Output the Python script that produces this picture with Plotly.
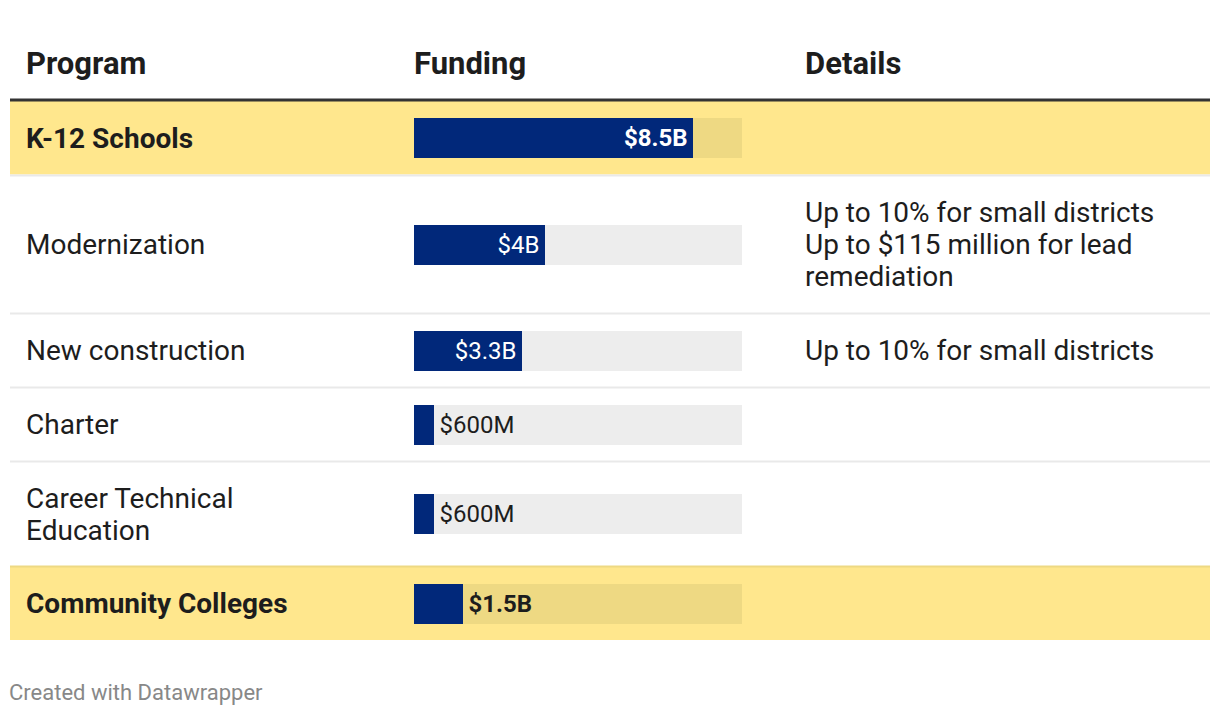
import plotly.graph_objects as go

# ---------------- data ----------------
programs = ["K-12 Schools", "Modernization", "New construction", "Charter",
            "Career Technical<br>Education", "Community Colleges"]
funding_billions = [8.5, 4.0, 3.3, 0.6, 0.6, 1.5]
funding_labels = ["$8.5B", "$4B", "$3.3B", "$600M", "$600M", "$1.5B"]
details = ["", "Up to 10% for small districts<br>Up to $115 million for lead<br>remediation",
           "Up to 10% for small districts", "", "", ""]
is_total_row = [True, False, False, False, False, True]
headers = ["Program", "Funding", "Details"]
SCALE_MAX = 10.0

# ---------------- layout constants (page pixels) ----------------
PAGE_OFF = 8                      # default body margin of the page
TEXT_PAD = 3                      # annotation inner padding
W, H = 1220 - PAGE_OFF, 716 - PAGE_OFF
TABLE_LEFT, TABLE_RIGHT = 10, 1210
COL_X = [27, 415, 806]
BAR_LEFT, BAR_RIGHT = 414, 742
HEADER_Y = 64
HEADER_LINE_Y = 100
ROW_HEIGHTS = [75, 138, 74, 74, 105, 74]
BAR_THICK = 40
LINE_H = 32

FONT = "Roboto"
TEXT_COLOR = "#1d1d1d"
NAVY = "#01287a"
YELLOW = "#ffe78d"
YELLOW_TRACK = "#eed983"
GREY_TRACK = "#ededed"
SEP_GREY = "#e9e9e9"


def px(x):
    return (x - PAGE_OFF) / W


bounds = [HEADER_LINE_Y + 0.5]
for h in ROW_HEIGHTS:
    bounds.append(bounds[-1] + h)
centers = [(bounds[i] + bounds[i + 1]) / 2 for i in range(len(ROW_HEIGHTS))]

fig = go.Figure()

fig.add_trace(go.Bar(
    orientation="h", y=centers, x=[SCALE_MAX] * len(centers), width=BAR_THICK,
    marker=dict(color=[YELLOW_TRACK if t else GREY_TRACK for t in is_total_row], line=dict(width=0)),
    hoverinfo="skip", showlegend=False,
))

texts = [f"<b>{l}</b>" if t else l for l, t in zip(funding_labels, is_total_row)]
positions = ["inside" if v / SCALE_MAX > 0.25 else "outside" for v in funding_billions]
texts = [t + "\u200a" if p == "inside" else "\u200a" + t for t, p in zip(texts, positions)]
tcolors = ["white" if p == "inside" else TEXT_COLOR for p in positions]
fig.add_trace(go.Bar(
    orientation="h", y=centers, x=funding_billions, width=BAR_THICK,
    marker=dict(color=NAVY, line=dict(width=0)),
    text=texts, textposition=positions, insidetextanchor="end",
    textfont=dict(family=FONT, size=24, color=tcolors),
    constraintext="none", cliponaxis=False,
    hoverinfo="skip", showlegend=False,
))

shapes = []
for i, t in enumerate(is_total_row):
    if t:
        shapes.append(dict(type="rect", xref="paper", yref="y",
                           x0=px(TABLE_LEFT), x1=px(TABLE_RIGHT),
                           y0=bounds[i], y1=bounds[i + 1] - (1 if i < len(ROW_HEIGHTS) - 1 else 0.5),
                           fillcolor=YELLOW, line=dict(width=0), layer="below"))
for i in range(1, len(ROW_HEIGHTS)):
    col = YELLOW_TRACK if is_total_row[i] else SEP_GREY
    shapes.append(dict(type="line", xref="paper", yref="y",
                       x0=px(TABLE_LEFT), x1=px(TABLE_RIGHT),
                       y0=bounds[i], y1=bounds[i], line=dict(color=col, width=2), layer="below"))
shapes.append(dict(type="line", xref="paper", yref="y",
                   x0=px(TABLE_LEFT), x1=px(TABLE_RIGHT),
                   y0=HEADER_LINE_Y, y1=HEADER_LINE_Y, line=dict(color="#333333", width=3)))

annotations = []


def add_text(txt, x, yc, size, bold=False, color=TEXT_COLOR):
    lines = txt.split("<br>")
    n = len(lines)
    for k, ln in enumerate(lines):
        y = yc + (k - (n - 1) / 2) * LINE_H
        annotations.append(dict(text=f"<b>{ln}</b>" if bold else ln, xref="paper", yref="y",
                                x=px(x - TEXT_PAD), y=y, xanchor="left", yanchor="middle",
                                align="left", showarrow=False,
                                font=dict(family=FONT, size=size, color=color)))


for hx, ht in zip(COL_X, headers):
    add_text(ht, hx, HEADER_Y - 1, 31, bold=True)
for i, (p, d, t) in enumerate(zip(programs, details, is_total_row)):
    add_text(p, COL_X[0], centers[i], 28, bold=t)
    if d:
        add_text(d, COL_X[2], centers[i], 28)
add_text("Created with Datawrapper", TABLE_LEFT, 692, 22, color="#888888")

fig.update_layout(
    width=W, height=H, margin=dict(l=0, r=0, t=0, b=0),
    paper_bgcolor="white", plot_bgcolor="rgba(0,0,0,0)",
    barmode="overlay", bargap=0,
    xaxis=dict(domain=[px(BAR_LEFT), px(BAR_RIGHT)], range=[0, SCALE_MAX], visible=False, fixedrange=True),
    yaxis=dict(domain=[0, 1], range=[H + PAGE_OFF, PAGE_OFF], visible=False, fixedrange=True),
    shapes=shapes, annotations=annotations,
    font=dict(family=FONT, color=TEXT_COLOR),
)

fig.write_html("out.html", config={"displayModeBar": False})
